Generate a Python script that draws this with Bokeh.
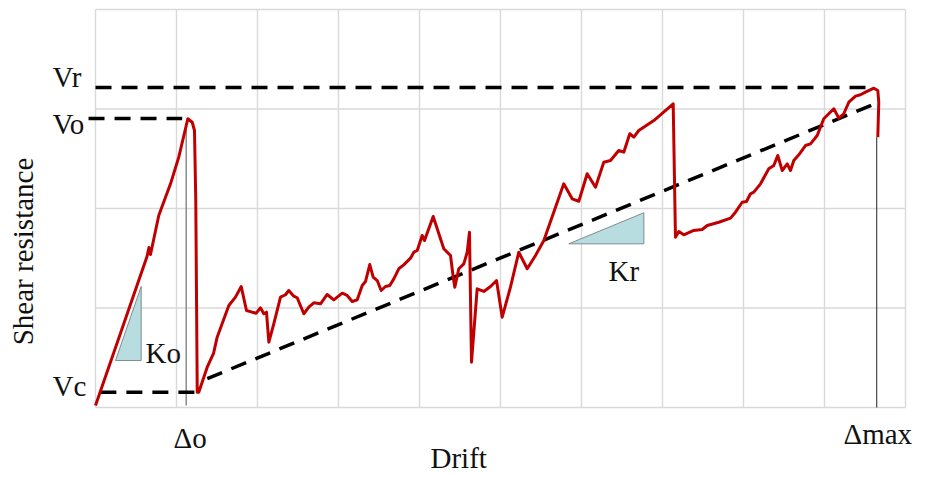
import math
from bokeh.plotting import figure
from bokeh.models import Range1d, Label
from bokeh.embed import file_html
from bokeh.resources import INLINE

# ---- data (drift units, shear units) ----
curve_x = [0.000, 0.636, 0.660, 0.679, 0.781, 0.926, 1.028, 1.140, 1.194, 1.222, 1.238, 1.256,
           1.275, 1.379, 1.457, 1.502, 1.646, 1.728, 1.799, 1.864, 1.935, 1.984, 2.037, 2.078,
           2.111, 2.140, 2.201, 2.284, 2.346, 2.386, 2.448, 2.490, 2.572, 2.633, 2.695, 2.778,
           2.860, 2.942, 3.046, 3.107, 3.169, 3.231, 3.293, 3.333, 3.386, 3.428, 3.478, 3.527,
           3.580, 3.633, 3.683, 3.744, 3.806, 3.889, 3.930, 3.972, 4.033, 4.062, 4.169, 4.300,
           4.383, 4.416, 4.436, 4.485, 4.547, 4.589, 4.617, 4.642, 4.712, 4.794, 4.877, 4.951,
           5.021, 5.123, 5.226, 5.330, 5.432, 5.535, 5.679, 5.781, 5.885, 5.967, 6.070, 6.173,
           6.275, 6.358, 6.460, 6.522, 6.596, 6.646, 6.707, 6.893, 7.132, 7.160, 7.201, 7.263,
           7.386, 7.490, 7.552, 7.695, 7.840, 7.901, 7.984, 8.037, 8.086, 8.127, 8.210, 8.312,
           8.374, 8.423, 8.478, 8.540, 8.580, 8.621, 8.683, 8.765, 8.827, 8.910, 8.991, 9.115,
           9.177, 9.238, 9.300, 9.383, 9.444, 9.506, 9.609, 9.658, 9.670, 9.658]
curve_y = [0.020, 1.518, 1.608, 1.538, 1.930, 2.248, 2.516, 2.902, 2.867, 2.784, 2.080, 0.154,
           0.154, 0.405, 0.543, 0.707, 1.025, 1.109, 1.216, 0.975, 0.958, 0.948, 1.002, 0.942,
           0.958, 0.656, 0.841, 1.109, 1.133, 1.176, 1.119, 1.103, 0.942, 1.008, 1.052, 1.042,
           1.136, 1.082, 1.149, 1.126, 1.065, 1.082, 1.226, 1.266, 1.437, 1.310, 1.276, 1.176,
           1.216, 1.226, 1.293, 1.394, 1.434, 1.501, 1.561, 1.578, 1.729, 1.678, 1.920, 1.595,
           1.528, 1.310, 1.209, 1.394, 1.444, 1.561, 1.762, 0.455, 1.193, 1.166, 1.216, 1.276,
           0.908, 1.209, 1.561, 1.394, 1.528, 1.678, 2.013, 2.248, 2.097, 2.073, 2.349, 2.214,
           2.465, 2.482, 2.583, 2.566, 2.751, 2.717, 2.784, 2.884, 3.052, 1.712, 1.769, 1.736,
           1.779, 1.789, 1.829, 1.862, 1.903, 1.963, 2.063, 2.070, 2.148, 2.164, 2.248, 2.399,
           2.432, 2.533, 2.382, 2.449, 2.382, 2.482, 2.540, 2.633, 2.650, 2.734, 2.902, 3.002,
           2.908, 2.952, 3.068, 3.129, 3.143, 3.169, 3.209, 3.186, 3.068, 2.717]

V_r = 3.216
V_o = 2.905
V_c = 0.154
delta_o = 1.12
delta_max = 9.645
secant_x = [1.38, 9.63]
secant_y = [0.29, 3.055]
ko_x = [0.247, 0.564, 0.564]
ko_y = [0.472, 1.216, 0.472]
kr_x = [5.843, 6.770, 6.770]
kr_y = [1.645, 1.957, 1.645]
x_ticks = list(range(0, 11))
y_ticks = list(range(0, 5))

FONT = "Liberation Serif"
FS = "29px"

W, H = 926, 476
# the whole canvas is the frame; the plot box (0..10, 0..4) sits at px 95..905, 9..407
x_lo = -95 / 81
x_hi = (W - 95) / 81
y_lo = (407 - H) / 99.5
y_hi = 407 / 99.5

p = figure(width=W, height=H, output_backend="svg", toolbar_location=None,
           x_range=Range1d(x_lo, x_hi), y_range=Range1d(y_lo, y_hi),
           x_axis_type=None, y_axis_type=None, min_border=0)
p.title.visible = False
p.outline_line_color = None
p.background_fill_color = "white"
p.border_fill_color = "white"

# grid and box
xmin, xmax = min(x_ticks), max(x_ticks)
ymin, ymax = min(y_ticks), max(y_ticks)
p.segment(x0=x_ticks, y0=[ymin] * len(x_ticks), x1=x_ticks, y1=[ymax] * len(x_ticks),
          line_color="#d9d9d9", line_width=1.4)
p.segment(x0=[xmin] * len(y_ticks), y0=y_ticks, x1=[xmax] * len(y_ticks), y1=y_ticks,
          line_color="#d9d9d9", line_width=1.4)

# slope triangles
p.patch(ko_x, ko_y, fill_color="#b7dde1", line_color="#7f8c8d", line_width=1)
p.patch(kr_x, kr_y, fill_color="#b7dde1", line_color="#7f8c8d", line_width=1)

# reference verticals
p.line([delta_o, delta_o], [0.02, 2.854], line_color="#8c8c8c", line_width=1.5)
p.line([delta_max, delta_max], [0.0, 2.717], line_color="#222222", line_width=1)

# dashed guide lines
dash = "16 10"
p.line([0.0, 9.63], [V_r, V_r], line_color="black", line_width=3.5, line_dash=dash)
p.line([-0.086, 1.07], [V_o, V_o], line_color="black", line_width=3.5, line_dash=dash)
p.line([0.06, 1.23], [V_c, V_c], line_color="black", line_width=3.5, line_dash=dash)
p.line(secant_x, secant_y, line_color="black", line_width=3.5, line_dash=dash)

# response curve
p.line(curve_x, curve_y, line_color="#c00000", line_width=3, line_join="round")

def lab(x, y, t, align="left", baseline="alphabetic", angle=0.0):
    p.add_layout(Label(x=x, y=y, text=t, text_font=FONT, text_font_size=FS,
                       text_color="#111111", text_align=align, text_baseline=baseline,
                       angle=angle))

lab(-0.531, 3.326, "Vr")
lab(-0.531, 2.854, "Vo")
lab(-0.531, 0.221, "Vc")
lab(0.963, -0.302, "Δo")
lab(9.235, -0.262, "Δmax")
lab(4.136, -0.51, "Drift")
lab(0.617, 0.552, "Ko")
lab(6.333, 1.376, "Kr")
lab(-0.901, 1.568, "Shear resistance", align="center", baseline="middle", angle=math.pi / 2)

open("out.html", "w").write(file_html(p, INLINE))
